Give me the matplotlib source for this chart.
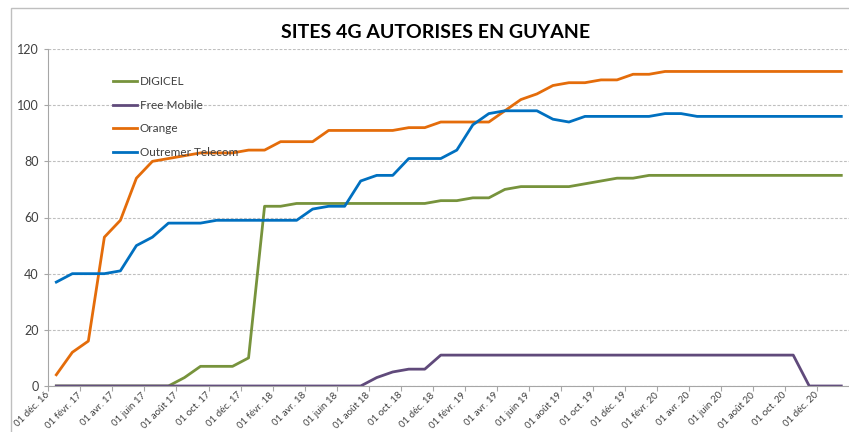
"""
Sites 4G autorises en Guyane, monthly counts per operator
"""
import numpy as np
import matplotlib
matplotlib.use("Agg")
from matplotlib import patches, pyplot as plt
from matplotlib.transforms import ScaledTranslation

plt.rcParams['font.family'] = ['Lato', 'DejaVu Sans']

# monthly values, dec. 2016 -> jan. 2021
DIGICEL = [0, 0, 0, 0, 0, 0, 0, 0, 3, 7, 7, 7, 10, 64, 64, 65, 65, 65, 65, 65,
           65, 65, 65, 65, 66, 66, 67, 67, 70, 71, 71, 71, 71, 72, 73, 74, 74, 75, 75, 75,
           75, 75, 75, 75, 75, 75, 75, 75, 75, 75]
FREE = [0, 0, 0, 0, 0, 0, 0, 0, 0, 0, 0, 0, 0, 0, 0, 0, 0, 0, 0, 0,
        3, 5, 6, 6, 11, 11, 11, 11, 11, 11, 11, 11, 11, 11, 11, 11, 11, 11, 11, 11,
        11, 11, 11, 11, 11, 11, 11, 0, 0, 0]
ORANGE = [4, 12, 16, 53, 59, 74, 80, 81, 82, 83, 83, 83, 84, 84, 87, 87, 87, 91, 91, 91,
          91, 91, 92, 92, 94, 94, 94, 94, 98, 102, 104, 107, 108, 108, 109, 109, 111, 111, 112, 112,
          112, 112, 112, 112, 112, 112, 112, 112, 112, 112]
OUTREMER = [37, 40, 40, 40, 41, 50, 53, 58, 58, 58, 59, 59, 59, 59, 59, 59, 63, 64, 64, 73,
            75, 75, 81, 81, 81, 84, 93, 97, 98, 98, 98, 95, 94, 96, 96, 96, 96, 96, 97, 97,
            96, 96, 96, 96, 96, 96, 96, 96, 96, 96]
SERIES = ["DIGICEL", "Free Mobile", "Orange", "Outremer Telecom"]
COLORS = ["#77933C", "#604A7B", "#E46C0A", "#0070C0"]

TICK_LABELS = ["01 déc. 16", "01 févr. 17", "01 avr. 17", "01 juin 17", "01 août 17",
               "01 oct. 17", "01 déc. 17", "01 févr. 18", "01 avr. 18", "01 juin 18",
               "01 août 18", "01 oct. 18", "01 déc. 18", "01 févr. 19", "01 avr. 19",
               "01 juin 19", "01 août 19", "01 oct. 19", "01 déc. 19", "01 févr. 20",
               "01 avr. 20", "01 juin 20", "01 août 20", "01 oct. 20", "01 déc. 20"]

fig = plt.figure(figsize=(8.49, 4.32), dpi=100)
ax = fig.add_axes([48.3 / 849, 46 / 432, 801 / 849, 337 / 432])

# chart border (cropped on the right and bottom in the original)
fig.patches.append(patches.Rectangle((11 / 849, -0.1), 2, (432 - 8) / 432 + 0.1,
                                     transform=fig.transFigure, fill=False,
                                     edgecolor='#bfbfbf', lw=1))

x = np.arange(len(ORANGE))
for vals, name, col in zip([DIGICEL, FREE, ORANGE, OUTREMER], SERIES, COLORS):
    ax.plot(x, vals, color=col, lw=2, label=name, solid_joinstyle='round')

ax.set_xlim(-0.5, len(ORANGE) - 0.5)
ax.set_ylim(0, 120)
ax.set_yticks(range(0, 121, 20))
ax.yaxis.grid(True, color='#bfbfbf', lw=0.8, linestyle=(0, (2.5, 1.5)))
ax.set_axisbelow(True)

ticks = np.arange(0, len(ORANGE), 2) - 0.5
ax.set_xticks(ticks)
ax.set_xticklabels(TICK_LABELS, rotation=45, ha='right', va='center',
                   rotation_mode='anchor', fontsize=7, color='#404040')
off = ScaledTranslation(9 / 100, -2 / 100, fig.dpi_scale_trans)
for lab in ax.get_xticklabels():
    lab.set_transform(lab.get_transform() + off)
ax.tick_params(axis='x', length=3.6, color='#a6a6a6', pad=2)
ax.tick_params(axis='y', length=3, color='#a6a6a6', labelsize=9, labelcolor='#404040', pad=4)

for s in ['top', 'right']:
    ax.spines[s].set_visible(False)
ax.spines['left'].set_color('#a6a6a6')
ax.spines['bottom'].set_color('#a6a6a6')

ax.legend(loc='upper left', bbox_to_anchor=((113 - 48.3) / 801, (386 - 76) / 337),
          frameon=False, fontsize=8.5, handlelength=2.0, handletextpad=0.25,
          borderpad=0, borderaxespad=0, labelspacing=1.08, labelcolor='#404040')

fig.text(435.5 / 849, 1 - 32 / 432, "SITES 4G AUTORISES EN GUYANE", ha='center', va='center',
         fontsize=14, fontweight='bold', color='black')

plt.savefig('out.png', dpi=100)
